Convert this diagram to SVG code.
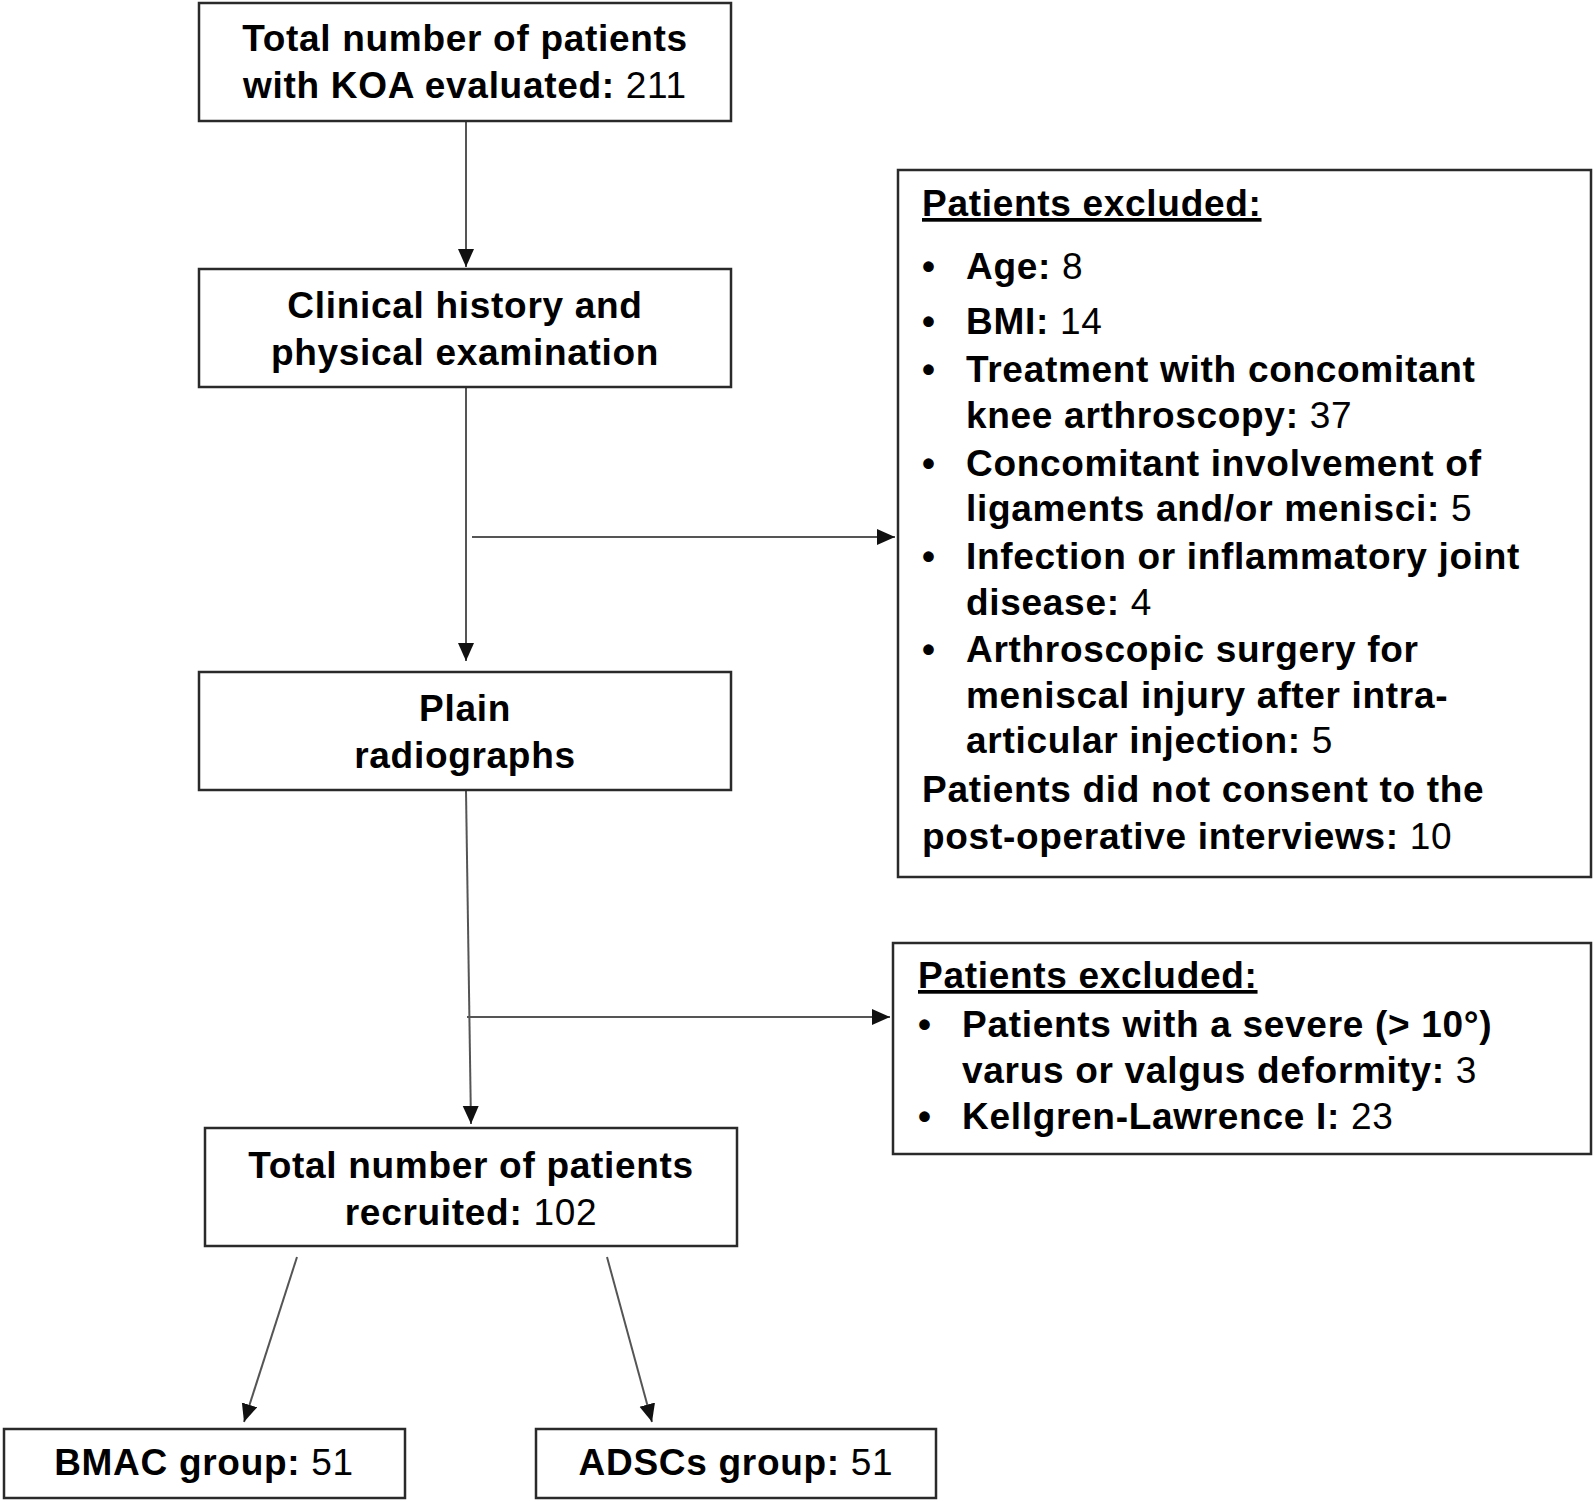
<svg xmlns="http://www.w3.org/2000/svg" width="1594" height="1502" viewBox="0 0 1594 1502">
<defs>
<style>
.box{fill:#fff;stroke:#2a2a2a;stroke-width:2.5}
text{font-family:"Liberation Sans",Arial,Helvetica,sans-serif;font-size:37px;letter-spacing:0.7px;fill:#000}
.b{font-weight:bold}
.c{text-anchor:middle}
.n{font-weight:normal}
.conn{stroke:#555;stroke-width:2;fill:none;marker-end:url(#ah)}
</style>
<marker id="ah" markerUnits="userSpaceOnUse" markerWidth="20" markerHeight="18" refX="18" refY="8" orient="auto">
<path d="M0,0 L18,8 L0,16 z" fill="#111"/>
</marker>
</defs>
<rect width="1594" height="1502" fill="#fff"/>
<g id="connectors">
<line class="conn" x1="466" y1="122" x2="466" y2="267"/>
<line class="conn" x1="466" y1="388" x2="466" y2="661"/>
<line class="conn" x1="472" y1="537" x2="895" y2="537"/>
<line class="conn" x1="466" y1="791" x2="471" y2="1124"/>
<line class="conn" x1="467" y1="1017" x2="890" y2="1017"/>
<line class="conn" x1="297" y1="1257" x2="244" y2="1422"/>
<line class="conn" x1="607" y1="1257" x2="652" y2="1422"/>
</g>
<g id="n1">
<rect class="box" x="199" y="3" width="532" height="118"/>
<text class="b c" x="465" y="51">Total number of patients</text>
<text class="b c" x="465" y="98">with KOA evaluated:<tspan class="n"> 211</tspan></text>
</g>
<g id="n2">
<rect class="box" x="199" y="269" width="532" height="118"/>
<text class="b c" x="465" y="318">Clinical history and</text>
<text class="b c" x="465" y="365">physical examination</text>
</g>
<g id="n3">
<rect class="box" x="199" y="672" width="532" height="118"/>
<text class="b c" x="465" y="721">Plain</text>
<text class="b c" x="465" y="768">radiographs</text>
</g>
<g id="n4">
<rect class="box" x="205" y="1128" width="532" height="118"/>
<text class="b c" x="471" y="1178">Total number of patients</text>
<text class="b c" x="471" y="1225">recruited:<tspan class="n"> 102</tspan></text>
</g>
<g id="n5">
<rect class="box" x="4" y="1429" width="401" height="69"/>
<text class="b c" x="204" y="1475">BMAC group:<tspan class="n"> 51</tspan></text>
</g>
<g id="n6">
<rect class="box" x="536" y="1429" width="400" height="69"/>
<text class="b c" x="736" y="1475">ADSCs group:<tspan class="n"> 51</tspan></text>
</g>
<g id="ex1">
<rect class="box" x="898" y="170" width="693" height="707"/>
<text class="b" x="922" y="216" text-decoration="underline">Patients excluded:</text>
<g class="bul">
<text class="b" x="922" y="279">•</text>
<text class="b" x="922" y="334">•</text>
<text class="b" x="922" y="382">•</text>
<text class="b" x="922" y="476">•</text>
<text class="b" x="922" y="569">•</text>
<text class="b" x="922" y="662">•</text>
</g>
<text class="b" x="966" y="279">Age:<tspan class="n"> 8</tspan></text>
<text class="b" x="966" y="334">BMI:<tspan class="n"> 14</tspan></text>
<text class="b" x="966" y="382">Treatment with concomitant</text>
<text class="b" x="966" y="428">knee arthroscopy:<tspan class="n"> 37</tspan></text>
<text class="b" x="966" y="476">Concomitant involvement of</text>
<text class="b" x="966" y="521">ligaments and/or menisci:<tspan class="n"> 5</tspan></text>
<text class="b" x="966" y="569">Infection or inflammatory joint</text>
<text class="b" x="966" y="615">disease:<tspan class="n"> 4</tspan></text>
<text class="b" x="966" y="662">Arthroscopic surgery for</text>
<text class="b" x="966" y="708">meniscal injury after intra-</text>
<text class="b" x="966" y="753">articular injection:<tspan class="n"> 5</tspan></text>
<text class="b" x="922" y="802">Patients did not consent to the</text>
<text class="b" x="922" y="849">post-operative interviews:<tspan class="n"> 10</tspan></text>
</g>
<g id="ex2">
<rect class="box" x="893" y="943" width="698" height="211"/>
<text class="b" x="918" y="988" text-decoration="underline">Patients excluded:</text>
<text class="b" x="918" y="1037">•</text>
<text class="b" x="918" y="1129">•</text>
<text class="b" x="962" y="1037">Patients with a severe (&gt; 10°)</text>
<text class="b" x="962" y="1083">varus or valgus deformity:<tspan class="n"> 3</tspan></text>
<text class="b" x="962" y="1129">Kellgren-Lawrence I:<tspan class="n"> 23</tspan></text>
</g>
</svg>
